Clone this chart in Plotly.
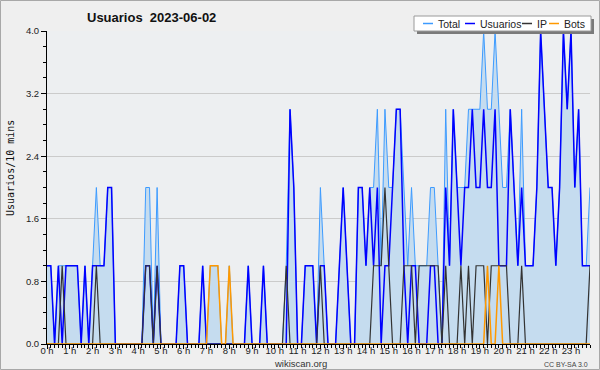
import plotly.graph_objects as go

# ---- data: one value per 10-minute slot (144 slots, 00:00 .. 23:50) ----
slots = list(range(144))
hour_ticks = list(range(24))
hour_labels = [f"{h} h" for h in hour_ticks]

total = [1,1,0,1,1,1,1,1,1,0,1,0,
         1,2,1,1,2,2,0,0,0,0,0,0,
         0,0,2,2,0,2,0,0,0,0,0,1,
         1,0,0,0,0,1,0,1,1,1,0,0,
         1,0,0,0,0,1,0,0,0,1,0,0,
         0,0,0,1,3,2,0,0,1,1,1,0,
         2,1,0,0,0,1,2,1,0,0,2,2,
         1,2,2,3,1,3,2,2,3,3,2,1,
         2,1,1,1,1,2,2,1,0,3,1,3,
         2,2,2,3,3,3,3,4,3,3,4,3,
         2,2,3,2,1,3,1,1,1,2,4,3,
         2,2,1,2,4,3,4,2,3,1,1,2]

usuarios = [1,1,0,1,0,1,1,1,1,0,1,0,
            1,1,1,1,2,2,0,0,0,0,0,0,
            0,0,1,1,0,1,0,0,0,0,0,1,
            1,0,0,0,0,1,0,0,0,0,0,0,
            0,0,0,0,0,1,0,0,0,1,0,0,
            0,0,0,0,3,2,0,0,1,1,1,0,
            1,1,0,0,0,1,2,1,0,0,2,2,
            1,2,1,2,0,1,1,2,3,3,1,0,
            1,1,0,0,0,1,1,0,0,2,1,3,
            2,1,2,2,3,2,2,3,2,2,3,1,
            1,1,3,2,1,2,1,1,1,2,4,3,
            2,2,1,2,4,3,4,2,3,1,1,1]

ip = [0,0,0,0,1,0,0,0,0,0,0,0,
      0,1,0,0,0,0,0,0,0,0,0,0,
      0,0,1,1,0,1,0,0,0,0,0,0,
      0,0,0,0,0,0,0,0,0,0,0,0,
      0,0,0,0,0,0,0,0,0,0,0,0,
      0,0,0,1,0,0,0,0,0,0,0,0,
      1,0,0,0,0,0,0,0,0,0,0,0,
      0,0,1,1,1,2,1,0,0,0,1,1,
      1,0,1,1,1,1,1,1,0,1,0,0,
      0,1,0,1,0,1,1,1,0,1,1,1,
      1,1,0,0,0,1,0,0,0,0,0,0,
      0,0,0,0,0,0,0,0,0,0,0,1]

bots = [0,0,0,0,0,0,0,0,0,0,0,0,
        0,0,0,0,0,0,0,0,0,0,0,0,
        0,0,0,0,0,0,0,0,0,0,0,0,
        0,0,0,0,0,0,0,1,1,1,0,0,
        1,0,0,0,0,0,0,0,0,0,0,0,
        0,0,0,0,0,0,0,0,0,0,0,0,
        0,0,0,0,0,0,0,0,0,0,0,0,
        0,0,0,0,0,0,0,0,0,0,0,0,
        0,0,0,0,0,0,0,0,0,0,0,0,
        0,0,0,0,0,0,0,0,1,0,0,1,
        0,0,0,0,0,0,0,0,0,0,0,0,
        0,0,0,0,0,0,0,0,0,0,0,0]

x = [s / 6 for s in slots]

C_TOTAL = "#3d9bff"
C_FILL = "#c5dcef"
C_USU = "#0000ff"
C_IP = "#333333"
C_BOTS = "#ff9900"

fig = go.Figure()
fig.add_trace(go.Scatter(x=x, y=total, mode="lines", name="Total",
                         line=dict(color=C_TOTAL, width=1),
                         fill="tozeroy", fillcolor=C_FILL))
fig.add_trace(go.Scatter(x=x, y=usuarios, mode="lines", name="Usuarios",
                         line=dict(color=C_USU, width=1.5)))
fig.add_trace(go.Scatter(x=x, y=ip, mode="lines", name="IP",
                         line=dict(color=C_IP, width=1.2)))
fig.add_trace(go.Scatter(x=x, y=bots, mode="lines", name="Bots",
                         line=dict(color=C_BOTS, width=1.5)))

# plot-area geometry (pixels) for placing decorations
L, R, T, B = 47, 590, 31, 344
W, H = R - L, B - T
def fx(p): return (p - L) / W
def fy(p): return (B - p) / H

tick_font = dict(family="Liberation Sans, Arial, sans-serif", size=9.5, color="#222")

fig.update_layout(
    width=600, height=370,
    margin=dict(l=L, r=600 - R, t=T, b=370 - B),
    paper_bgcolor="#efefef", plot_bgcolor="#edeff1",
    showlegend=False,
    xaxis=dict(range=[0, 143 / 6], tickmode="array", tickvals=hour_ticks,
               ticktext=hour_labels, ticks="outside", ticklen=4, tickcolor="black",
               ticklabelstandoff=-6,
               showline=True, linecolor="black", linewidth=1, showgrid=False,
               zeroline=False, tickfont=tick_font,
               minor=dict(tickmode="linear", tick0=0, dtick=1 / 6, ticks="outside",
                          ticklen=3, tickcolor="black", showgrid=False)),
    yaxis=dict(range=[0, 4], tickmode="linear", tick0=0, dtick=0.8, tickformat=".1f",
               ticks="outside", ticklen=5, tickcolor="black",
               showline=True, linecolor="black", linewidth=1,
               showgrid=True, gridcolor="#cbcbcb", gridwidth=1, zeroline=False,
               tickfont=tick_font,
               minor=dict(tickmode="linear", tick0=0, dtick=0.2, ticks="outside",
                          ticklen=3, tickcolor="black", showgrid=False)),
)

shapes = []
annotations = []

# outer border
shapes.append(dict(type="rect", xref="paper", yref="paper",
                   x0=fx(0.5), x1=fx(599.5), y0=fy(369.5), y1=fy(0.5),
                   line=dict(color="#a8a8a8", width=1), fillcolor="rgba(0,0,0,0)",
                   layer="above"))

# legend (drawn manually): shadow + box + swatches + labels
shapes.append(dict(type="rect", xref="paper", yref="paper",
                   x0=fx(417), x1=fx(594), y0=fy(34), y1=fy(19),
                   line=dict(width=0), fillcolor="#7a7a7a", layer="above"))
shapes.append(dict(type="rect", xref="paper", yref="paper",
                   x0=fx(414), x1=fx(591), y0=fy(31), y1=fy(16),
                   line=dict(color="#9a9a9a", width=1), fillcolor="#ffffff", layer="above"))
legend_items = [("Total", C_TOTAL, 423, 436), ("Usuarios", C_USU, 465, 478),
                ("IP", C_IP, 522, 535), ("Bots", C_BOTS, 549, 562)]
for name, col, sx, tx in legend_items:
    shapes.append(dict(type="line", xref="paper", yref="paper",
                       x0=fx(sx), x1=fx(sx + 10), y0=fy(23.5), y1=fy(23.5),
                       line=dict(color=col, width=1.5), layer="above"))
    annotations.append(dict(xref="paper", yref="paper", x=fx(tx), y=fy(23.5),
                            xanchor="left", yanchor="middle", showarrow=False,
                            text=name, font=dict(family="Liberation Sans, Arial, sans-serif",
                                                 size=10.5, color="#222")))

# title
annotations.append(dict(xref="paper", yref="paper", x=fx(85), y=fy(17),
                        xanchor="left", yanchor="middle", showarrow=False,
                        text="<b>Usuarios\u00a0 2023-06-02</b>",
                        font=dict(family="Liberation Sans, Arial, sans-serif", size=13, color="#111")))
# y axis title
annotations.append(dict(xref="paper", yref="paper", x=fx(10), y=fy(168),
                        xanchor="center", yanchor="middle", showarrow=False, textangle=-90,
                        text="Usuarios/10 mins",
                        font=dict(family="DejaVu Sans Mono, monospace", size=10, color="#111")))
# footer texts
annotations.append(dict(xref="paper", yref="paper", x=fx(300), y=fy(363),
                        xanchor="center", yanchor="middle", showarrow=False,
                        text="wikiscan.org",
                        font=dict(family="Liberation Sans, Arial, sans-serif", size=9.5, color="#333")))
annotations.append(dict(xref="paper", yref="paper", x=fx(590), y=fy(364),
                        xanchor="right", yanchor="middle", showarrow=False,
                        text="CC BY-SA 3.0",
                        font=dict(family="Liberation Sans, Arial, sans-serif", size=7, color="#444")))

fig.update_layout(shapes=shapes, annotations=annotations)
fig.write_html("out.html", config={"displayModeBar": False},
               post_script="document.body.style.margin='0';document.body.style.padding='0';")
